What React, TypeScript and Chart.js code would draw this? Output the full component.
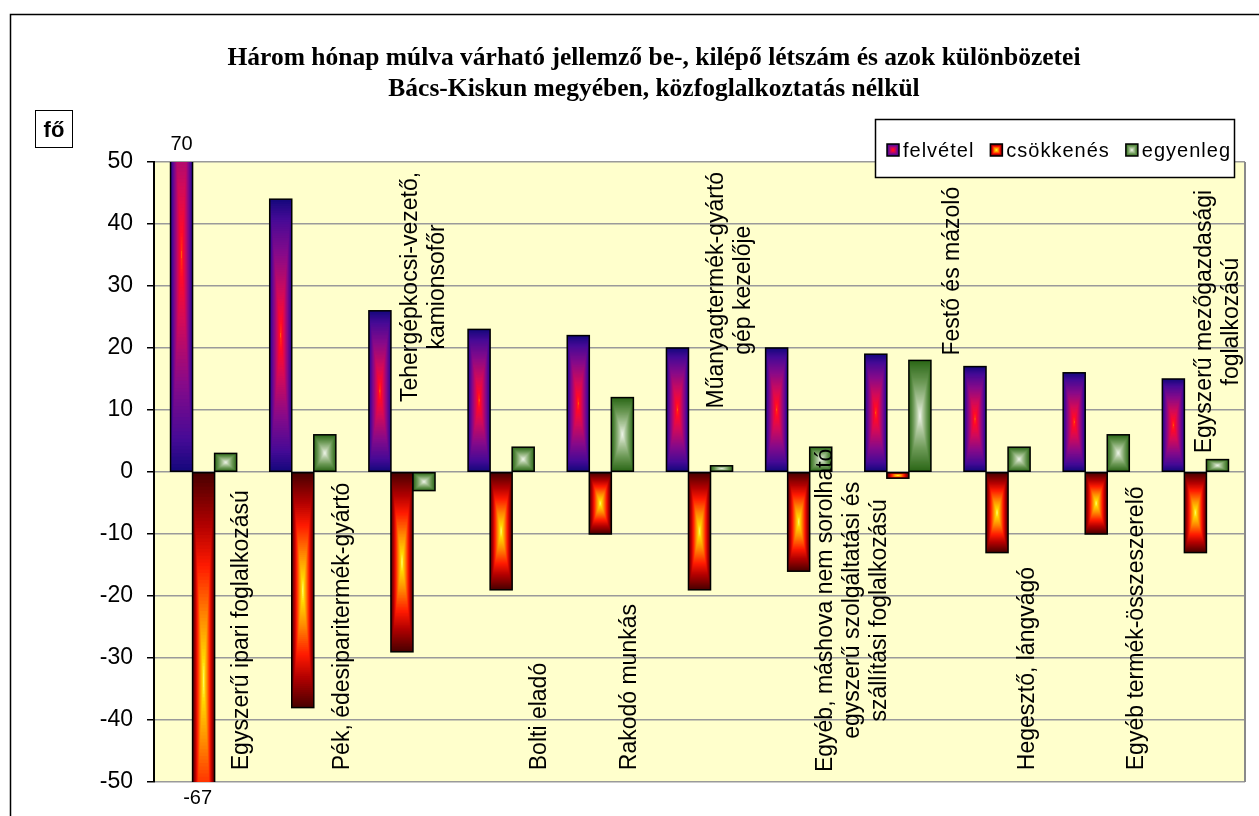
import React, { useEffect, useRef } from "react";
import { Chart, registerables } from "chart.js";

Chart.register(...registerables);

// ---------- data ----------
const categories: string[][] = [
  ["Egyszerű ipari foglalkozású"],
  ["Pék, édesiparitermék-gyártó"],
  ["Tehergépkocsi-vezető,", "kamionsofőr"],
  ["Bolti eladó"],
  ["Rakodó munkás"],
  ["Műanyagtermék-gyártó", "gép kezelője"],
  ["Egyéb, máshova nem sorolható", "egyszerű szolgáltatási és", "szállítási foglalkozású"],
  ["Festő és mázoló"],
  ["Hegesztő, lángvágó"],
  ["Egyéb termék-összeszerelő"],
  ["Egyszerű mezőgazdasági", "foglalkozású"],
];
const seriesNames = ["felvétel", "csökkenés", "egyenleg"];
const felvetel = [70, 44, 26, 23, 22, 20, 20, 19, 17, 16, 15];
const csokkenes = [-67, -38, -29, -19, -10, -19, -16, -1, -13, -10, -13];
const egyenleg = [3, 6, -3, 4, 12, 1, 4, 18, 4, 6, 2];
const yTicks = { min: -50, max: 50, step: 10 };
const titleLines = [
  "Három hónap múlva várható jellemző be-, kilépő létszám és azok különbözetei",
  "Bács-Kiskun megyében, közfoglalkoztatás nélkül",
];
const unitLabel = "fő";

// ---------- label layout (category label placement inside the plot) ----------
// off: fraction of category width from category centre; anchor: which end is fixed; v: anchor value on y scale
const labelLayout = [
  { off: 0.38, anchor: "bottom", v: -48.1 },
  { off: 0.4, anchor: "bottom", v: -48.1 },
  { off: 0.22, anchor: "top", v: 48.4 },
  { off: 0.39, anchor: "bottom", v: -48.1 },
  { off: 0.3, anchor: "bottom", v: -48.1 },
  { off: 0.31, anchor: "top", v: 48.4 },
  { off: 0.54, anchor: "bottom", v: -48.4 },
  { off: 0.55, anchor: "top", v: 46 },
  { off: 0.31, anchor: "bottom", v: -48.1 },
  { off: 0.41, anchor: "bottom", v: -48.1 },
  { off: 0.23, anchor: "top", v: 45.5 },
];

// ---------- styles ----------
type Stop = [number, string];
const gradients: Stop[][] = [
  [
    [0, "#14087c"],
    [0.15, "#460a96"],
    [0.4, "#860a8a"],
    [0.7, "#d40a58"],
    [0.9, "#ff0a28"],
    [0.98, "#ff3010"],
    [1, "#ffe000"],
  ],
  [
    [0, "#480000"],
    [0.25, "#b00000"],
    [0.45, "#ff1a00"],
    [0.7, "#ff8a00"],
    [0.9, "#ffd800"],
    [1, "#ffff70"],
  ],
  [
    [0, "#2a6616"],
    [0.4, "#6c9956"],
    [0.75, "#b2caa2"],
    [1, "#eef4e8"],
  ],
];
const SANS = '"Liberation Sans", Arial, sans-serif';
const SERIF = '"Liberation Serif", "Times New Roman", serif';

function hexToRgb(h: string) {
  const n = parseInt(h.slice(1), 16);
  return [(n >> 16) & 255, (n >> 8) & 255, n & 255];
}
function colorAt(stops: Stop[], t: number) {
  for (let i = 1; i < stops.length; i++) {
    if (t <= stops[i][0]) {
      const [t0, c0] = stops[i - 1];
      const [t1, c1] = stops[i];
      const f = (t - t0) / (t1 - t0 || 1);
      const a = hexToRgb(c0);
      const b = hexToRgb(c1);
      const m = a.map((v, k) => Math.round(v + (b[k] - v) * f));
      return `rgb(${m[0]},${m[1]},${m[2]})`;
    }
  }
  return stops[stops.length - 1][1];
}
function rectGradient(ctx: CanvasRenderingContext2D, x: number, y: number, w: number, h: number, stops: Stop[]) {
  const N = 60;
  const cx = x + w / 2;
  const cy = y + h / 2;
  for (let k = 0; k < N; k++) {
    const s = 1 - k / N;
    ctx.fillStyle = colorAt(stops, (k + 0.5) / N);
    ctx.fillRect(cx - (w / 2) * s, cy - (h / 2) * s, w * s, h * s);
  }
}

const customPlugin = {
  id: "customDraw",
  beforeDraw(chart: any) {
    const { ctx, chartArea: a } = chart;
    ctx.save();
    ctx.fillStyle = "#ffffcc";
    ctx.fillRect(a.left, a.top, a.right - a.left, a.bottom - a.top);
    ctx.restore();
  },
  afterDatasetsDraw(chart: any) {
    const { ctx, chartArea: a } = chart;
    ctx.save();
    ctx.beginPath();
    ctx.rect(a.left, a.top, a.right - a.left, a.bottom - a.top);
    ctx.clip();
    chart.data.datasets.forEach((_ds: any, d: number) => {
      const meta = chart.getDatasetMeta(d);
      meta.data.forEach((bar: any) => {
        const p = bar.getProps(["x", "y", "base", "width"], true);
        const left = p.x - p.width / 2;
        const top = Math.min(p.y, p.base);
        const h = Math.abs(p.base - p.y);
        rectGradient(ctx, left, top, p.width, h, gradients[d]);
        ctx.strokeStyle = "#000";
        ctx.lineWidth = 1.5;
        ctx.strokeRect(left, top, p.width, h);
      });
    });
    ctx.restore();

    // category labels, rotated
    const xs = chart.scales.x;
    const ys = chart.scales.y;
    const catW = (a.right - a.left) / categories.length;
    ctx.save();
    ctx.font = `23px ${SANS}`;
    ctx.fillStyle = "#000";
    ctx.textAlign = "center";
    ctx.textBaseline = "middle";
    const lh = 27;
    categories.forEach((lines, i) => {
      const L = labelLayout[i];
      const maxW = Math.max(...lines.map((l) => ctx.measureText(l).width));
      const cx = xs.getPixelForValue(i) + L.off * catW;
      const ay = ys.getPixelForValue(L.v);
      const cy = L.anchor === "bottom" ? ay - maxW / 2 : ay + maxW / 2;
      ctx.save();
      ctx.translate(cx, cy);
      ctx.rotate(-Math.PI / 2);
      lines.forEach((line, j) => {
        ctx.fillText(line, 0, (j - (lines.length - 1) / 2) * lh);
      });
      ctx.restore();
    });
    ctx.restore();
  },
  afterDraw(chart: any) {
    const { ctx, chartArea: a } = chart;
    const W = chart.width;
    const H = chart.height;
    ctx.save();
    // right plot border
    ctx.strokeStyle = "#8a8a8a";
    ctx.lineWidth = 2;
    ctx.beginPath();
    ctx.moveTo(a.right, a.top);
    ctx.lineTo(a.right, a.bottom);
    ctx.stroke();

    // outer frame
    ctx.strokeStyle = "#000";
    ctx.lineWidth = 1.5;
    ctx.beginPath();
    ctx.moveTo(10.5, H);
    ctx.lineTo(10.5, 14.5);
    ctx.lineTo(W, 14.5);
    ctx.stroke();

    // title
    ctx.fillStyle = "#000";
    ctx.font = `bold 25.5px ${SERIF}`;
    ctx.textAlign = "center";
    ctx.textBaseline = "alphabetic";
    const tcx = 654;
    ctx.fillText(titleLines[0], tcx, 65);
    ctx.fillText(titleLines[1], tcx, 96);

    // unit box
    ctx.lineWidth = 1;
    ctx.strokeRect(35.5, 110.5, 37, 37);
    ctx.font = `bold 22px ${SANS}`;
    ctx.fillText(unitLabel, 54, 137);

    // value labels for clipped bars
    const ys = chart.scales.y;
    ctx.font = `20px ${SANS}`;
    chart.data.datasets.forEach((ds: any, d: number) => {
      const meta = chart.getDatasetMeta(d);
      ds.data.forEach((v: number, i: number) => {
        const bar = meta.data[i];
        if (v > ys.max) {
          ctx.textBaseline = "alphabetic";
          ctx.fillText(String(v), bar.x, a.top - 12);
        } else if (v < ys.min) {
          ctx.textBaseline = "top";
          ctx.fillText(String(v), bar.x - 6, a.bottom + 6);
        }
      });
    });

    // legend
    const lx = 875, ly = 119, lw = 359, lhh = 58;
    ctx.fillStyle = "#fff";
    ctx.fillRect(lx, ly, lw, lhh);
    ctx.strokeStyle = "#000";
    ctx.lineWidth = 1.5;
    ctx.strokeRect(lx + 0.5, ly + 0.5, lw, lhh);
    ctx.font = `20px ${SANS}`;
    (ctx as any).letterSpacing = "1px";
    ctx.textAlign = "left";
    ctx.textBaseline = "alphabetic";
    let x = 887;
    seriesNames.forEach((name, d) => {
      rectGradient(ctx, x, 144, 12, 12, gradients[d]);
      ctx.lineWidth = 1.5;
      ctx.strokeRect(x, 144, 12, 12);
      ctx.fillStyle = "#000";
      ctx.fillText(name, x + 16, 157);
      x += 16 + ctx.measureText(name).width + 16;
    });
    (ctx as any).letterSpacing = "0px";
    ctx.restore();
  },
};

export default function App() {
  const ref = useRef<HTMLCanvasElement | null>(null);
  useEffect(() => {
    if (!ref.current) return;
    const chart = new Chart(ref.current, {
      type: "bar",
      data: {
        labels: categories,
        datasets: [
          { label: seriesNames[0], data: felvetel, backgroundColor: "rgba(0,0,0,0)", borderWidth: 0 },
          { label: seriesNames[1], data: csokkenes, backgroundColor: "rgba(0,0,0,0)", borderWidth: 0 },
          { label: seriesNames[2], data: egyenleg, backgroundColor: "rgba(0,0,0,0)", borderWidth: 0 },
        ],
      },
      options: {
        responsive: false,
        animation: false,
        devicePixelRatio: 1,
        datasets: { bar: { categoryPercentage: 2 / 3, barPercentage: 1 } },
        layout: { padding: { left: 0, top: 162, right: 14, bottom: 34 } },
        plugins: { legend: { display: false }, title: { display: false }, tooltip: { enabled: false } },
        scales: {
          x: { display: false },
          y: {
            min: yTicks.min,
            max: yTicks.max,
            afterFit: (s: any) => {
              s.width = 154;
            },
            ticks: {
              stepSize: yTicks.step,
              padding: 14,
              color: "#000",
              font: { family: SANS, size: 23 },
            },
            grid: { color: "#9a9a9a", lineWidth: 1.5, tickLength: 7, tickColor: "#000" },
            border: { display: true, color: "#000", width: 2 },
          },
        },
      },
      plugins: [customPlugin],
    });
    return () => chart.destroy();
  }, []);
  return (
    <div style={{ position: "fixed", left: 0, top: 0, width: 1259, height: 816, background: "#fff" }}>
      <canvas ref={ref} width={1259} height={816} />
    </div>
  );
}
